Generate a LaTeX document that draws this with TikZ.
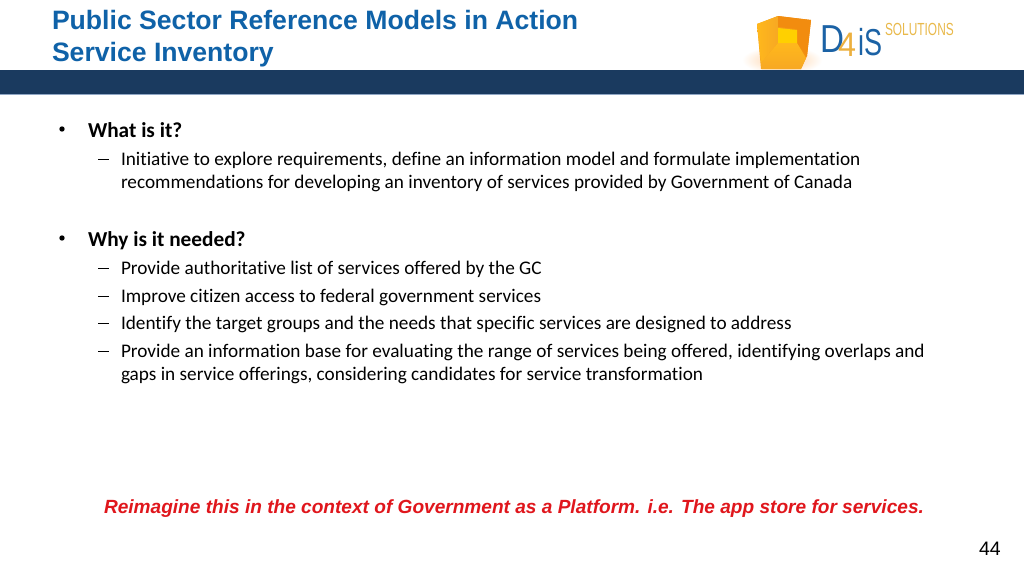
\documentclass[tikz,border=0pt]{standalone}
\usepackage{fontspec}
\setmainfont[RawFeature={-liga;-clig;-dlig}]{Carlito}
\newfontfamily\arialf{Liberation Sans}
\definecolor{titleblue}{HTML}{0F62A8}
\definecolor{barblue}{HTML}{1A3A5F}
\definecolor{barline}{HTML}{8FA6C4}
\definecolor{redtxt}{HTML}{E0161C}
\definecolor{logoblue}{HTML}{1B62A5}
\definecolor{logogold}{HTML}{E9B94A}
\definecolor{cubeA}{HTML}{F28C0F}
\definecolor{cubeB}{HTML}{F7A823}
\definecolor{cubeC}{HTML}{FFD000}
\definecolor{cubeD}{HTML}{FFB81C}
\tikzset{
  x=1pt,y=-1pt,
  txt/.style={anchor=base west,inner sep=0pt,outer sep=0pt,text=black},
  title/.style={txt,text=titleblue,font=\arialf\bfseries\fontsize{26.6}{30}\selectfont},
  head/.style={txt,font=\bfseries\fontsize{21.3}{24}\selectfont},
  body/.style={txt,font=\fontsize{19.25}{22}\selectfont},
  dashmark/.style={line width=1pt,draw=black},
  bulletmark/.style={fill=black,circle,inner sep=0pt,minimum size=5.4pt},
}
\begin{document}
\begin{tikzpicture}
\useasboundingbox (0,0) rectangle (1024,576);
\fill[white] (0,0) rectangle (1024,576);
% logo cube
\shade[inner color=orange!40,outer color=white,draw=none] (782,60) ellipse (40 and 14);
\shade[left color=cubeB,right color=cubeA] (757,24) -- (778,16) -- (811,20) -- (807,56) -- (801,69) -- (761,69) -- cycle;
\fill[cubeA] (778,16) -- (811,20) -- (807,56) -- (797,43) -- (797,29) -- (778,27) -- cycle;
\shade[left color=cubeD,right color=cubeB] (757,24) -- (778,16) -- (778,43) -- (761,63) -- cycle;
\fill[cubeC] (778,28) -- (797,30) -- (797,43) -- (778,43) -- cycle;
\shade[top color=cubeD,bottom color=cubeB] (761,63) -- (778,43) -- (797,43) -- (806,58) -- (801,69) -- (762,69) -- cycle;
% header bar
\fill[barblue] (0,70) rectangle (1024,94);
\fill[barline] (0,94) rectangle (1024,95);
\node[txt,text=logoblue,font=\arialf\fontsize{39}{40}\selectfont,xscale=.85] (d) at (820,52) {D};
\node[txt,text=logogold!85!orange,font=\arialf\fontsize{34}{35}\selectfont,xscale=.95] (four) at (838,56) {4};
\node[txt,text=logoblue,font=\arialf\fontsize{37.5}{38}\selectfont,xscale=.72] (is) at (858,55) {iS};
\node[txt,text=logogold,font=\arialf\fontsize{17.5}{18}\selectfont,xscale=.68] (sol) at (885,35) {SOLUTIONS};
% titles
\node[title] (t1) at (52,29) {Public Sector Reference Models in Action};
\node[title] (t2) at (52,61) {Service Inventory};
% body
\node[bulletmark] (b1) at (62,129) {};
\node[head] (h1) at (88,137) {What is it?};
\coordinate (d1a) at (98,159);\coordinate (d1b) at (109,159);
\draw[dashmark] (d1a) -- (d1b);
\node[body] (l1) at (121,165) {Initiative to explore requirements, define an information model and formulate implementation};
\node[body] (l2) at (121,188) {recommendations for developing an inventory of services provided by Government of Canada};
\node[bulletmark] (b2) at (62,238) {};
\node[head] (h2) at (88,246) {Why is it needed?};
\coordinate (d2a) at (98,268);\coordinate (d2b) at (109,268);
\draw[dashmark] (d2a) -- (d2b);
\node[body] (l3) at (121,274) {Provide authoritative list of services offered by the GC};
\coordinate (d3a) at (98,296);\coordinate (d3b) at (109,296);
\draw[dashmark] (d3a) -- (d3b);
\node[body] (l4) at (121,302) {Improve citizen access to federal government services};
\coordinate (d4a) at (98,323);\coordinate (d4b) at (109,323);
\draw[dashmark] (d4a) -- (d4b);
\node[body] (l5) at (121,329.5) {Identify the target groups and the needs that specific services are designed to address};
\coordinate (d5a) at (98,351);\coordinate (d5b) at (109,351);
\draw[dashmark] (d5a) -- (d5b);
\node[body] (l6) at (121,357) {Provide an information base for evaluating the range of services being offered, identifying overlaps and};
\node[body] (l7) at (121,380.5) {gaps in service offerings, considering candidates for service transformation};
\node[txt,text=redtxt,font=\arialf\bfseries\itshape\fontsize{19.08}{22}\selectfont] (r) at (104,513) {Reimagine this in the context of Government as a Platform. i.e. The app store for services.};
\node[txt,font=\arialf\fontsize{19.5}{22}\selectfont] (n) at (979,555) {44};
\end{tikzpicture}
\end{document}
